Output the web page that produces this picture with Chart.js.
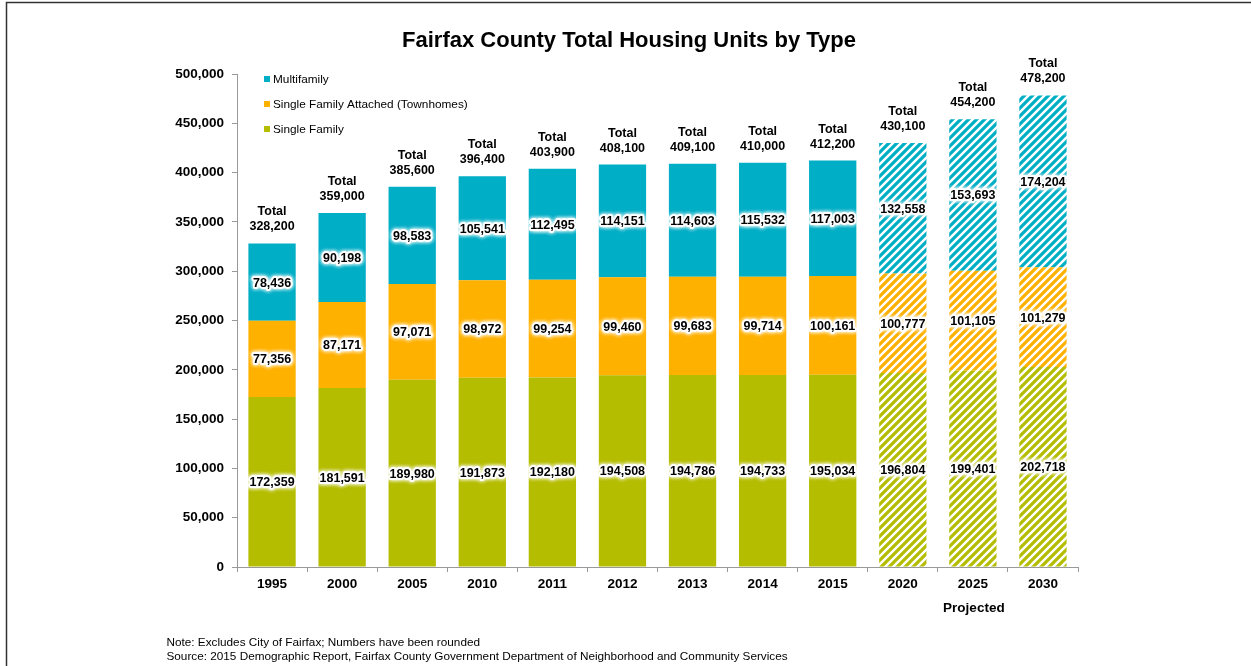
<!DOCTYPE html>
<html>
<head>
<meta charset="utf-8">
<script src="https://cdn.jsdelivr.net/npm/chart.js@4.4.0/dist/chart.umd.min.js"></script>
<style>
html,body{margin:0;padding:0;background:#fff;overflow:hidden}
#wrap{width:1251px;height:666px;position:relative}
</style>
</head>
<body>
<div id="wrap"><canvas id="c" width="1251" height="666"></canvas></div>
<script>
// ---- data ----
const years = ['1995','2000','2005','2010','2011','2012','2013','2014','2015','2020','2025','2030'];
const singleFamily = [172359,181591,189980,191873,192180,194508,194786,194733,195034,196804,199401,202718];
const townhomes    = [77356,87171,97071,98972,99254,99460,99683,99714,100161,100777,101105,101279];
const multifamily  = [78436,90198,98583,105541,112495,114151,114603,115532,117003,132558,153693,174204];
const totals = ['328,200','359,000','385,600','396,400','403,900','408,100','409,100','410,000','412,200','430,100','454,200','478,200'];
const projected = [false,false,false,false,false,false,false,false,false,true,true,true];
const seriesNames = ['Single Family','Single Family Attached (Townhomes)','Multifamily'];
const yMax = 500000, yStep = 50000;
const titleText = 'Fairfax County Total Housing Units by Type';
const noteLines = ['Note: Excludes City of Fairfax; Numbers have been rounded',
  'Source: 2015 Demographic Report, Fairfax County Government Department of Neighborhood and Community Services'];
const projectedLabel = 'Projected';

// ---- styles ----
const COLORS = ['#B5BD00', '#FFB100', '#00AEC6'];
const FONT = '"Liberation Sans", Arial, sans-serif';

function makeHatch(color) {
  const s = 8;
  const c = document.createElement('canvas');
  c.width = s; c.height = s;
  const g = c.getContext('2d');
  g.fillStyle = '#fff';
  g.fillRect(0, 0, s, s);
  g.strokeStyle = color;
  g.lineWidth = 3.2;
  g.lineCap = 'square';
  g.beginPath();
  g.moveTo(0, s); g.lineTo(s, 0);
  g.moveTo(-s/2, s/2); g.lineTo(s/2, -s/2);
  g.moveTo(s/2, s*1.5); g.lineTo(s*1.5, s/2);
  g.stroke();
  return g.createPattern(c, 'repeat');
}

const fmt = v => v.toLocaleString('en-US');
const seriesData = [singleFamily, townhomes, multifamily];

const datasets = seriesData.map((arr, i) => {
  const pat = makeHatch(COLORS[i]);
  return {
    label: seriesNames[i],
    data: arr,
    backgroundColor: projected.map(p => p ? pat : COLORS[i]),
    borderWidth: 0,
    barPercentage: 0.675,
    categoryPercentage: 1.0
  };
});

function glowText(ctx, text, x, y) {
  ctx.save();
  ctx.shadowColor = 'rgba(255,255,255,1)';
  ctx.shadowBlur = 4;
  ctx.strokeStyle = '#fff';
  ctx.lineWidth = 3.5;
  ctx.lineJoin = 'round';
  ctx.strokeText(text, x, y);
  ctx.strokeText(text, x, y);
  ctx.restore();
  ctx.fillStyle = '#000';
  ctx.fillText(text, x, y);
}

const decor = {
  id: 'decor',
  afterDatasetsDraw(chart) {
    const ctx = chart.ctx;
    const area = chart.chartArea;
    ctx.save();
    // segment labels
    ctx.font = 'bold 12.5px ' + FONT;
    ctx.textAlign = 'center';
    ctx.textBaseline = 'middle';
    chart.data.datasets.forEach((ds, i) => {
      const meta = chart.getDatasetMeta(i);
      meta.data.forEach((bar, j) => {
        const yc = (bar.y + bar.base) / 2 + 1;
        glowText(ctx, fmt(ds.data[j]), bar.x, yc);
      });
    });
    // totals
    const top = chart.getDatasetMeta(2);
    ctx.fillStyle = '#000';
    top.data.forEach((bar, j) => {
      ctx.fillText('Total', bar.x, bar.y - 31.5);
      ctx.fillText(totals[j], bar.x, bar.y - 16.5);
    });
    // legend (reverse order)
    ctx.font = '11.8px ' + FONT;
    ctx.textAlign = 'left';
    const lx = area.left + 27;
    [2, 1, 0].forEach((i, k) => {
      const y = 79 + k * 25;
      ctx.fillStyle = COLORS[i];
      ctx.fillRect(lx, y - 3, 6, 6);
      ctx.fillStyle = '#000';
      ctx.fillText(seriesNames[i], lx + 9, y + 0.5);
    });
    ctx.restore();
  },
  afterDraw(chart) {
    const ctx = chart.ctx;
    ctx.save();
    // title
    ctx.fillStyle = '#000';
    ctx.font = 'bold 22px ' + FONT;
    ctx.textAlign = 'center';
    ctx.textBaseline = 'alphabetic';
    ctx.fillText(titleText, 629, 47);
    // projected label
    const xs = chart.scales.x;
    ctx.font = 'bold 13.5px ' + FONT;
    ctx.textBaseline = 'middle';
    ctx.fillText(projectedLabel, xs.getPixelForValue(10) + 1, 608);
    // notes
    ctx.font = '11.75px ' + FONT;
    ctx.textAlign = 'left';
    ctx.fillText(noteLines[0], 166.5, 643);
    ctx.fillText(noteLines[1], 166.5, 657);
    // frame
    ctx.strokeStyle = '#333';
    ctx.lineWidth = 1.5;
    ctx.beginPath();
    ctx.moveTo(6.5, 666);
    ctx.lineTo(6.5, 2.5);
    ctx.lineTo(1251, 2.5);
    ctx.stroke();
    ctx.restore();
  }
};

new Chart(document.getElementById('c'), {
  type: 'bar',
  data: { labels: years, datasets },
  options: {
    responsive: false,
    animation: false,
    devicePixelRatio: 1,
    layout: { padding: { left: 150, right: 173, top: 74, bottom: 64 } },
    plugins: { legend: { display: false }, title: { display: false }, tooltip: { enabled: false } },
    scales: {
      x: {
        stacked: true,
        grid: { display: true, drawOnChartArea: false, tickLength: 5, color: '#999', offset: true },
        border: { display: true, color: '#999', width: 1 },
        ticks: { color: '#000', font: { family: FONT, size: 13.5, weight: 'bold' }, padding: 4 },
        afterFit(s) { s.height = 35; }
      },
      y: {
        stacked: true,
        min: 0, max: yMax,
        grid: { display: true, drawOnChartArea: false, tickLength: 5, color: '#999' },
        border: { display: true, color: '#999', width: 1 },
        ticks: { stepSize: yStep, color: '#000', font: { family: FONT, size: 13.5, weight: 'bold' }, padding: 8,
          callback: v => fmt(v) },
        afterFit(s) { s.width = 87; }
      }
    }
  },
  plugins: [decor]
});
</script>
</body>
</html>
